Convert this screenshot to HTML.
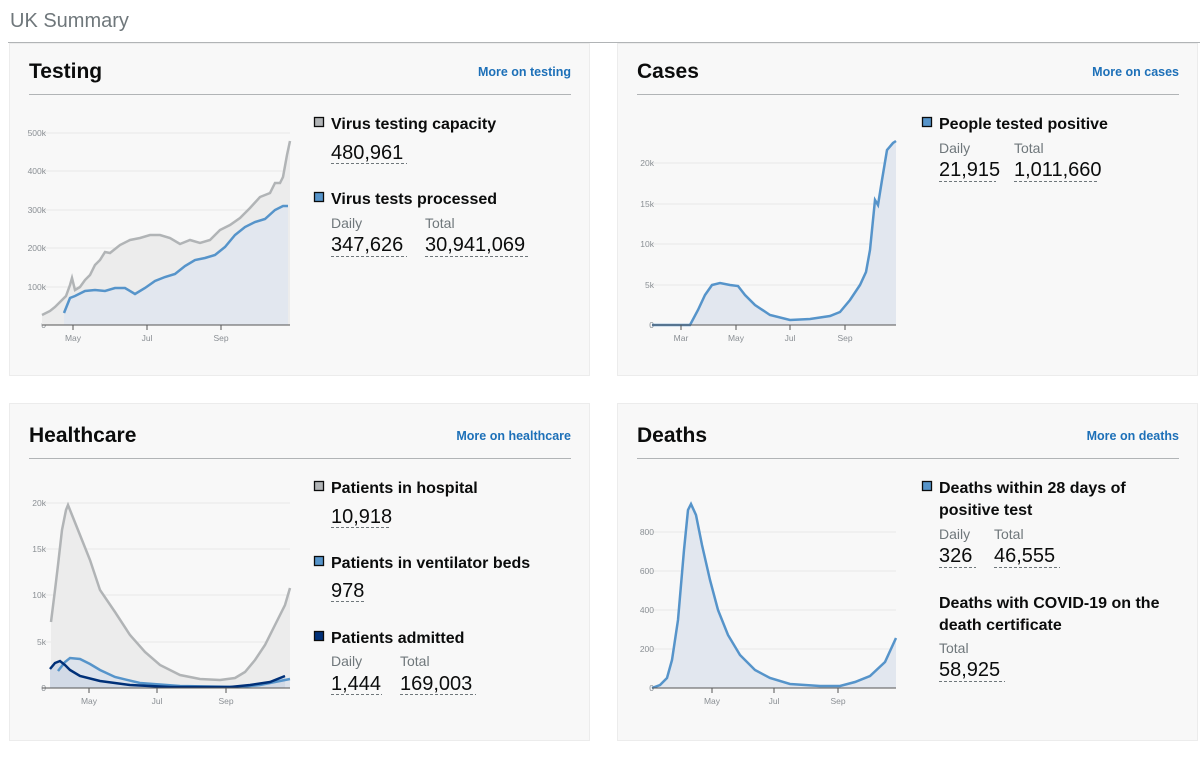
<!DOCTYPE html>
<html><head><meta charset="utf-8"><style>
body{margin:0;background:#fff;width:1200px;height:775px;overflow:hidden;font-family:"Liberation Sans",sans-serif}
</style></head><body>
<svg width="1200" height="775" xmlns="http://www.w3.org/2000/svg" font-family="Liberation Sans, sans-serif">
<text x="10" y="27" font-size="20" fill="#6f777b">UK Summary</text>
<line x1="8" y1="42.5" x2="1200" y2="42.5" stroke="#b1b4b6"/>
<g fill="#f8f8f8" stroke="#ececec">
<rect x="9.5" y="43.5" width="580" height="332"/>
<rect x="617.5" y="43.5" width="580" height="332"/>
<rect x="9.5" y="403.5" width="580" height="337"/>
<rect x="617.5" y="403.5" width="580" height="337"/>
</g>
<g font-size="21" font-weight="bold" fill="#0b0c0c">
<text x="29" y="78">Testing</text><text x="637" y="78">Cases</text>
<text x="29" y="442">Healthcare</text><text x="637" y="442">Deaths</text>
</g>
<g font-size="12.5" font-weight="bold" fill="#1d70b8" text-anchor="end">
<text x="571" y="76">More on testing</text><text x="1179" y="76">More on cases</text>
<text x="571" y="440">More on healthcare</text><text x="1179" y="440">More on deaths</text>
</g>
<g stroke="#b1b4b6"><line x1="29" y1="94.5" x2="571" y2="94.5"/><line x1="637" y1="94.5" x2="1179" y2="94.5"/>
<line x1="29" y1="458.5" x2="571" y2="458.5"/><line x1="637" y1="458.5" x2="1179" y2="458.5"/></g>

<g stroke="#e8e8e8">
<line x1="42" y1="133" x2="290" y2="133"/><line x1="42" y1="171" x2="290" y2="171"/><line x1="42" y1="210" x2="290" y2="210"/><line x1="42" y1="248" x2="290" y2="248"/><line x1="42" y1="287" x2="290" y2="287"/>
<line x1="652" y1="163" x2="896" y2="163"/><line x1="652" y1="204" x2="896" y2="204"/><line x1="652" y1="244" x2="896" y2="244"/><line x1="652" y1="285" x2="896" y2="285"/>
<line x1="42" y1="503" x2="290" y2="503"/><line x1="42" y1="549" x2="290" y2="549"/><line x1="42" y1="595" x2="290" y2="595"/><line x1="42" y1="642" x2="290" y2="642"/>
<line x1="652" y1="532" x2="896" y2="532"/><line x1="652" y1="571" x2="896" y2="571"/><line x1="652" y1="610" x2="896" y2="610"/><line x1="652" y1="649" x2="896" y2="649"/>
</g>
<g font-size="8.5" fill="#8a8f94" text-anchor="end">
<text x="46" y="136">500k</text><text x="46" y="174">400k</text><text x="46" y="213">300k</text><text x="46" y="251">200k</text><text x="46" y="290">100k</text><text x="46" y="328">0</text>
<text x="654" y="166">20k</text><text x="654" y="207">15k</text><text x="654" y="247">10k</text><text x="654" y="288">5k</text><text x="654" y="328">0</text>
<text x="46" y="506">20k</text><text x="46" y="552">15k</text><text x="46" y="598">10k</text><text x="46" y="645">5k</text><text x="46" y="691">0</text>
<text x="654" y="535">800</text><text x="654" y="574">600</text><text x="654" y="613">400</text><text x="654" y="652">200</text><text x="654" y="691">0</text>
</g>
<g font-size="8.5" fill="#8a8f94" text-anchor="middle">
<text x="73" y="341">May</text><text x="147" y="341">Jul</text><text x="221" y="341">Sep</text>
<text x="681" y="341">Mar</text><text x="736" y="341">May</text><text x="790" y="341">Jul</text><text x="845" y="341">Sep</text>
<text x="89" y="704">May</text><text x="157" y="704">Jul</text><text x="226" y="704">Sep</text>
<text x="712" y="704">May</text><text x="774" y="704">Jul</text><text x="838" y="704">Sep</text>
</g>

<path d="M42,315 L50,311 55,307 60,302 66,296 70,285 72,278 75,290 80,287 85,280 90,275 95,265 100,260 105,252 110,253 120,245 130,240 140,238 150,235 160,235 170,238 180,244 190,240 200,243 210,240 220,230 230,225 240,218 250,208 260,197 270,193 275,183 280,183 283,177 287,155 290,141 L290,325 L42,325Z" fill="#ececec"/>
<path d="M64,313 L70,298 75,296 85,291 95,290 105,291 115,288 125,288 135,294 145,288 155,281 165,277 175,274 185,266 195,260 205,258 215,255 225,247 235,235 245,227 255,222 265,219 275,210 283,206 288,206 L288,325 L64,325Z" fill="#e2e7ef"/>
<path d="M42,315 L50,311 55,307 60,302 66,296 70,285 72,278 75,290 80,287 85,280 90,275 95,265 100,260 105,252 110,253 120,245 130,240 140,238 150,235 160,235 170,238 180,244 190,240 200,243 210,240 220,230 230,225 240,218 250,208 260,197 270,193 275,183 280,183 283,177 287,155 290,141" fill="none" stroke="#b1b4b6" stroke-width="2.5"/>
<path d="M64,313 L70,298 75,296 85,291 95,290 105,291 115,288 125,288 135,294 145,288 155,281 165,277 175,274 185,266 195,260 205,258 215,255 225,247 235,235 245,227 255,222 265,219 275,210 283,206 288,206" fill="none" stroke="#5694ca" stroke-width="2.5"/>
<line x1="42" y1="325" x2="290" y2="325" stroke="#555"/>
<g stroke="#555"><line x1="73" y1="325" x2="73" y2="330"/><line x1="147" y1="325" x2="147" y2="330"/><line x1="221" y1="325" x2="221" y2="330"/></g>

<path d="M652,325 L690,325 698,310 705,295 712,285 720,283 730,285 738,286 745,295 755,305 770,315 790,320 810,319 830,316 840,312 850,300 860,285 866,272 870,250 875,200 878,205 882,180 887,150 893,143 896,141 L896,325Z" fill="#e2e7ef"/>
<path d="M652,325 L690,325 698,310 705,295 712,285 720,283 730,285 738,286 745,295 755,305 770,315 790,320 810,319 830,316 840,312 850,300 860,285 866,272 870,250 875,200 878,205 882,180 887,150 893,143 896,141" fill="none" stroke="#5694ca" stroke-width="2.5"/>
<line x1="652" y1="325" x2="896" y2="325" stroke="#555"/>
<g stroke="#555"><line x1="681" y1="325" x2="681" y2="330"/><line x1="736" y1="325" x2="736" y2="330"/><line x1="790" y1="325" x2="790" y2="330"/><line x1="845" y1="325" x2="845" y2="330"/></g>

<path d="M51,622 L55,590 58,565 62,530 66,510 68,505 72,515 80,535 90,560 100,590 115,612 130,635 145,652 160,665 180,675 200,679 220,680 235,678 245,672 255,660 265,645 275,625 285,605 290,588 L290,688 L51,688Z" fill="#ececec"/>
<path d="M58,671 L65,662 70,658 80,659 90,664 100,670 115,677 140,683 180,686 240,687 260,685 290,679 L290,688 L58,688Z" fill="#dde3ec"/>
<path d="M50,669 L55,663 60,661 65,665 70,670 80,676 100,681 130,685 170,687 230,687 250,685 270,682 285,676 L285,688 L50,688Z" fill="#d2dae6"/>
<path d="M51,622 L55,590 58,565 62,530 66,510 68,505 72,515 80,535 90,560 100,590 115,612 130,635 145,652 160,665 180,675 200,679 220,680 235,678 245,672 255,660 265,645 275,625 285,605 290,588" fill="none" stroke="#b1b4b6" stroke-width="2.5"/>
<path d="M58,671 L65,662 70,658 80,659 90,664 100,670 115,677 140,683 180,686 240,687 260,685 290,679" fill="none" stroke="#5694ca" stroke-width="2.5"/>
<path d="M50,669 L55,663 60,661 65,665 70,670 80,676 100,681 130,685 170,687 230,687 250,685 270,682 285,676" fill="none" stroke="#003078" stroke-width="2.5"/>
<line x1="42" y1="688" x2="290" y2="688" stroke="#555"/>
<g stroke="#555"><line x1="89" y1="688" x2="89" y2="693"/><line x1="157" y1="688" x2="157" y2="693"/><line x1="226" y1="688" x2="226" y2="693"/></g>

<path d="M652,688 L660,685 667,678 672,660 678,620 684,550 688,510 691,504 696,515 702,545 710,580 718,610 728,635 740,655 755,670 770,678 790,684 820,686 840,686 855,682 870,676 885,662 896,638 L896,688Z" fill="#e2e7ef"/>
<path d="M652,688 L660,685 667,678 672,660 678,620 684,550 688,510 691,504 696,515 702,545 710,580 718,610 728,635 740,655 755,670 770,678 790,684 820,686 840,686 855,682 870,676 885,662 896,638" fill="none" stroke="#5694ca" stroke-width="2.5"/>
<line x1="652" y1="688" x2="896" y2="688" stroke="#555"/>
<g stroke="#555"><line x1="712" y1="688" x2="712" y2="693"/><line x1="774" y1="688" x2="774" y2="693"/><line x1="838" y1="688" x2="838" y2="693"/></g>

<g stroke="#0b0c0c" stroke-width="1.3">
<rect x="314.5" y="117.5" width="9" height="9" fill="#b1b4b6"/>
<rect x="314.5" y="192.5" width="9" height="9" fill="#5694ca"/>
<rect x="922.5" y="117.5" width="9" height="9" fill="#5694ca"/>
<rect x="314.5" y="481.5" width="9" height="9" fill="#b1b4b6"/>
<rect x="314.5" y="556.5" width="9" height="9" fill="#5694ca"/>
<rect x="314.5" y="631.5" width="9" height="9" fill="#003078"/>
<rect x="922.5" y="481.5" width="9" height="9" fill="#5694ca"/>
</g>
<g font-size="16" font-weight="bold" fill="#0b0c0c">
<text x="331" y="129">Virus testing capacity</text>
<text x="331" y="204">Virus tests processed</text>
<text x="939" y="129">People tested positive</text>
<text x="331" y="493">Patients in hospital</text>
<text x="331" y="568">Patients in ventilator beds</text>
<text x="331" y="643">Patients admitted</text>
<text x="939" y="493">Deaths within 28 days of</text>
<text x="939" y="515">positive test</text>
<text x="939" y="608">Deaths with COVID-19 on the</text>
<text x="939" y="630">death certificate</text>
</g>
<g font-size="14" fill="#6f777b">
<text x="331" y="228">Daily</text><text x="425" y="228">Total</text>
<text x="939" y="153">Daily</text><text x="1014" y="153">Total</text>
<text x="331" y="666">Daily</text><text x="400" y="666">Total</text>
<text x="939" y="539">Daily</text><text x="994" y="539">Total</text>
<text x="939" y="653">Total</text>
</g>
<g font-size="20" fill="#0b0c0c">
<text x="331" y="159">480,961</text>
<text x="331" y="251">347,626</text><text x="425" y="251">30,941,069</text>
<text x="939" y="176">21,915</text><text x="1014" y="176">1,011,660</text>
<text x="331" y="523">10,918</text>
<text x="331" y="597">978</text>
<text x="331" y="690">1,444</text><text x="400" y="690">169,003</text>
<text x="939" y="562">326</text><text x="994" y="562">46,555</text>
<text x="939" y="676">58,925</text>
</g>
<g stroke="#6f777b" stroke-dasharray="3,2">
<line x1="331" y1="163.5" x2="407" y2="163.5"/>
<line x1="331" y1="256.5" x2="407" y2="256.5"/><line x1="425" y1="256.5" x2="530" y2="256.5"/>
<line x1="939" y1="181.5" x2="996" y2="181.5"/><line x1="1014" y1="181.5" x2="1097" y2="181.5"/>
<line x1="331" y1="527.5" x2="389" y2="527.5"/>
<line x1="331" y1="601.5" x2="366" y2="601.5"/>
<line x1="331" y1="694.5" x2="382" y2="694.5"/><line x1="400" y1="694.5" x2="476" y2="694.5"/>
<line x1="939" y1="567.5" x2="976" y2="567.5"/><line x1="994" y1="567.5" x2="1060" y2="567.5"/>
<line x1="939" y1="681.5" x2="1005" y2="681.5"/>
</g>
</svg>
</body></html>
